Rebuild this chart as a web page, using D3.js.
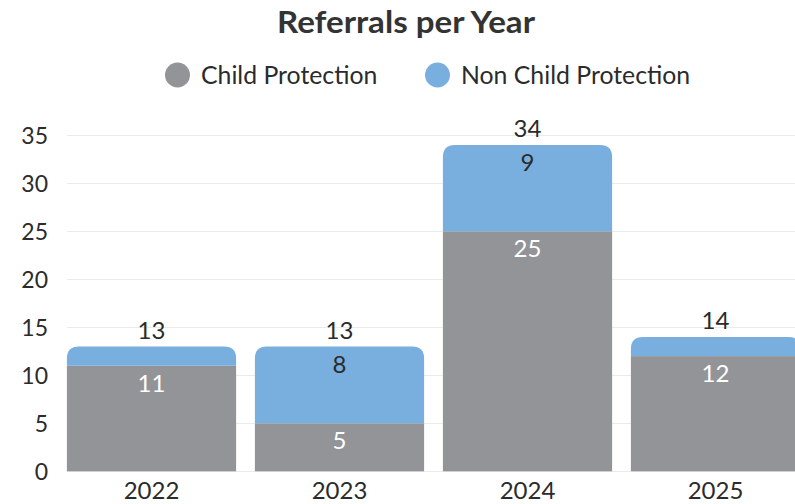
<!DOCTYPE html>
<html><head><meta charset="utf-8">
<script src="https://cdn.jsdelivr.net/npm/d3@7"></script>
<style>
html,body{margin:0;padding:0;background:#fff;overflow:hidden;}
svg{display:block;font-family:Lato,"Open Sans",sans-serif;}
</style></head>
<body><svg id="c" width="795" height="504"></svg>
<script>
const years = ["2022","2023","2024","2025"];
const childProtection = [11, 5, 25, 12];
const nonChildProtection = [2, 8, 9, 2];
const seriesNames = ["Child Protection","Non Child Protection"];
const seriesColors = ["#939498","#79afdf"];
const yTicks = [0,5,10,15,20,25,30,35];

const svg = d3.select("#c");
const W = 795, H = 504;
const x = d3.scaleBand().domain(years).range([57.5, 809.5]).paddingInner(0.1).paddingOuter(0.05);
const y = d3.scaleLinear().domain([0,35]).range([471.3, 135.3]);
const textCol = "#2b2b2b";

// title
svg.append("text").attr("x", 406).attr("y", 33).attr("text-anchor","middle")
  .attr("font-size", 31).attr("font-weight", 700).attr("fill", "#333")
  .attr("textLength", 258).attr("lengthAdjust", "spacingAndGlyphs").text("Referrals per Year");

// legend
const legend = [{name: seriesNames[0], color: seriesColors[0], cx: 177.5},{name: seriesNames[1], color: seriesColors[1], cx: 437.5}];
legend.forEach(l => {
  svg.append("circle").attr("cx", l.cx).attr("cy", 75).attr("r", 12.5).attr("fill", l.color);
  svg.append("text").attr("x", l.cx + 23.5).attr("y", 83.5).attr("font-size", 24.8).attr("fill", textCol).text(l.name);
});

// grid
svg.append("g").selectAll("line").data(yTicks).join("line")
  .attr("x1", 67).attr("x2", W).attr("y1", d => Math.round(y(d))+0.5).attr("y2", d => Math.round(y(d))+0.5)
  .attr("stroke", "#ebebeb").attr("stroke-width", 1);

// y axis
const yAxis = d3.axisLeft(y).tickValues(yTicks).tickSize(0).tickPadding(0);
const ga = svg.append("g").attr("transform","translate(48,0)").call(yAxis);
ga.select(".domain").remove();
ga.selectAll("text").attr("font-size", 23).attr("fill", textCol).attr("font-family","Lato,sans-serif").attr("dy","0.36em");

// x axis
const xAxis = d3.axisBottom(x).tickSize(0).tickPadding(0);
const gx = svg.append("g").attr("transform","translate(0,482)").call(xAxis);
gx.select(".domain").remove();
gx.selectAll("text").attr("font-size", 24).attr("fill", textCol).attr("font-family","Lato,sans-serif").attr("dy","0.71em");

// bars
const r = 12;
function topRounded(x0, y0, w, h, rr) {
  rr = Math.min(rr, h, w/2);
  return `M${x0},${y0+h}V${y0+rr}Q${x0},${y0} ${x0+rr},${y0}H${x0+w-rr}Q${x0+w},${y0} ${x0+w},${y0+rr}V${y0+h}Z`;
}
years.forEach((yr, i) => {
  const bx = x(yr), bw = x.bandwidth();
  const cp = childProtection[i], ncp = nonChildProtection[i], tot = cp + ncp;
  svg.append("rect").attr("x", bx).attr("y", y(cp)).attr("width", bw).attr("height", y(0)-y(cp)).attr("fill", seriesColors[0]);
  svg.append("path").attr("d", topRounded(bx, y(tot), bw, y(cp)-y(tot), r)).attr("fill", seriesColors[1]);
  const cx = bx + bw/2;
  svg.append("text").attr("x", cx).attr("y", y(cp)+26).attr("text-anchor","middle").attr("font-size", 24).attr("fill", "#fff").text(cp);
  if (y(cp)-y(tot) > 30)
    svg.append("text").attr("x", cx).attr("y", y(tot)+26).attr("text-anchor","middle").attr("font-size", 24).attr("fill", textCol).text(ncp);
  svg.append("text").attr("x", cx).attr("y", y(tot)-8).attr("text-anchor","middle").attr("font-size", 24).attr("fill", textCol).text(tot);
});
</script></body></html>
